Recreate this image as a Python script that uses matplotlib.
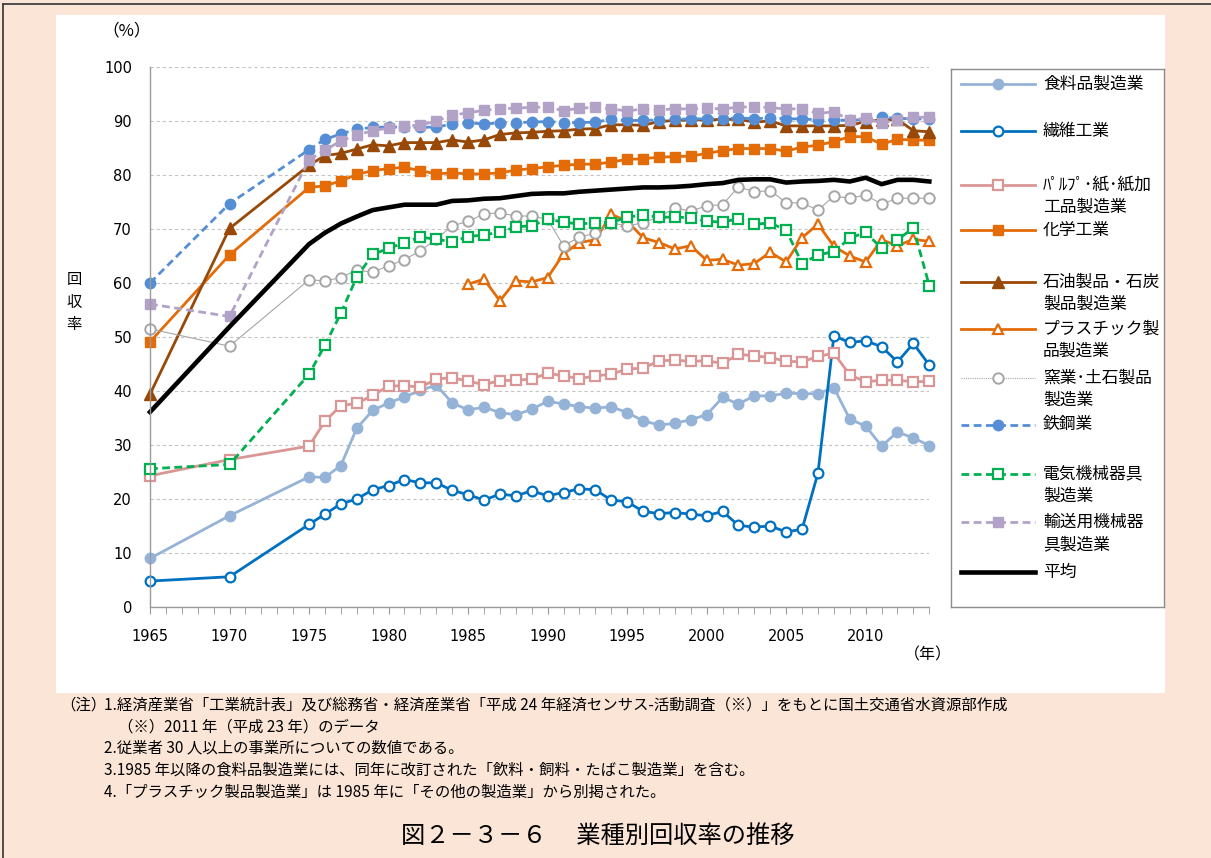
import matplotlib
matplotlib.use("Agg")
import matplotlib.pyplot as plt
from matplotlib.lines import Line2D
from matplotlib.patches import Rectangle
import numpy as np

plt.rcParams['font.family'] = ['Noto Sans CJK JP', 'DejaVu Sans']

# ---------------------------------------------------------------- data
years = [1965, 1970,
         1975, 1976, 1977, 1978, 1979, 1980, 1981, 1982, 1983, 1984,
         1985, 1986, 1987, 1988, 1989, 1990, 1991, 1992, 1993, 1994,
         1995, 1996, 1997, 1998, 1999, 2000, 2001, 2002, 2003, 2004,
         2005, 2006, 2007, 2008, 2009, 2010, 2011, 2012, 2013, 2014]

food = [9.0, 16.9,
        24.1, 24.0, 26.2, 33.1, 36.4, 37.8, 38.9, 40.1, 41.1, 37.8,
        36.5, 37.0, 36.0, 35.6, 36.6, 38.1, 37.6, 37.1, 36.8, 37.1,
        36.0, 34.5, 33.7, 34.0, 34.7, 35.6, 38.8, 37.6, 39.1, 39.1,
        39.6, 39.5, 39.5, 40.6, 34.8, 33.5, 29.8, 32.4, 31.3, 29.9]

textile = [4.8, 5.6,
           15.3, 17.2, 19.1, 20.0, 21.7, 22.5, 23.6, 23.0, 23.0, 21.6,
           20.8, 19.8, 20.9, 20.6, 21.5, 20.6, 21.2, 21.9, 21.7, 19.8,
           19.5, 17.7, 17.3, 17.5, 17.2, 16.9, 17.7, 15.1, 14.8, 15.0,
           13.9, 14.4, 24.8, 50.2, 49.0, 49.3, 48.2, 45.4, 48.8, 44.8]

pulp = [24.3, 27.3,
        29.8, 34.4, 37.3, 37.7, 39.2, 40.9, 41.0, 40.7, 42.2, 42.5,
        41.8, 41.2, 41.9, 42.0, 42.2, 43.3, 42.8, 42.3, 42.8, 43.1,
        44.1, 44.2, 45.6, 45.7, 45.5, 45.6, 45.1, 46.8, 46.5, 46.2,
        45.5, 45.4, 46.4, 47.0, 43.0, 41.7, 42.0, 42.0, 41.7, 41.8]

chemical = [49.1, 65.2,
            77.7, 78.0, 78.9, 80.1, 80.8, 81.2, 81.4, 80.8, 80.2, 80.4,
            80.2, 80.2, 80.4, 80.9, 81.2, 81.5, 81.8, 82.0, 82.0, 82.4,
            82.9, 83.0, 83.3, 83.4, 83.5, 84.0, 84.5, 84.9, 84.9, 84.9,
            84.4, 85.2, 85.5, 86.2, 87.1, 87.1, 85.7, 86.6, 86.5, 86.4]

petroleum = [39.4, 70.1,
             81.8, 83.6, 84.0, 84.8, 85.6, 85.4, 86.0, 86.0, 86.0, 86.5,
             86.1, 86.5, 87.5, 87.8, 87.9, 88.1, 88.2, 88.5, 88.6, 89.3,
             89.3, 89.2, 89.9, 90.1, 90.2, 90.2, 90.3, 90.3, 89.8, 90.0,
             89.1, 89.1, 89.1, 89.1, 89.2, 89.9, 90.2, 90.3, 88.2, 88.0]

plastic = [None, None,
           None, None, None, None, None, None, None, None, None, None,
           59.8, 60.7, 56.7, 60.4, 60.2, 61.0, 65.4, 67.5, 68.0, 72.7,
           71.5, 68.4, 67.5, 66.3, 66.9, 64.2, 64.4, 63.3, 63.6, 65.7,
           63.9, 68.4, 70.9, 66.8, 65.0, 63.9, 68.0, 66.9, 68.1, 67.7]

ceramics = [51.5, 48.3,
            60.6, 60.4, 61.0, 62.4, 62.0, 63.2, 64.3, 66.0, 68.1, 70.6,
            71.4, 72.8, 73.0, 72.4, 72.4, 71.8, 66.9, 68.5, 69.2, 71.2,
            70.5, 71.2, 72.2, 73.9, 73.3, 74.3, 74.5, 77.8, 76.9, 77.1,
            74.9, 74.8, 73.5, 76.1, 75.7, 76.3, 74.6, 75.7, 75.7, 75.7]

steel = [60.0, 74.7,
         84.7, 86.6, 87.6, 88.5, 88.8, 88.9, 88.9, 88.8, 88.9, 89.4,
         89.6, 89.5, 89.6, 89.7, 89.8, 89.9, 89.7, 89.7, 89.8, 90.3,
         90.1, 90.1, 90.2, 90.3, 90.4, 90.4, 90.4, 90.6, 90.4, 90.6,
         90.4, 90.4, 90.2, 90.2, 90.1, 90.3, 90.7, 90.5, 90.4, 90.4]

electric = [25.6, 26.4,
            43.1, 48.5, 54.4, 61.1, 65.3, 66.4, 67.5, 68.5, 68.1, 67.6,
            68.6, 68.9, 69.4, 70.4, 70.6, 71.8, 71.3, 70.9, 71.2, 71.2,
            72.2, 72.6, 72.2, 72.2, 72.1, 71.4, 71.3, 71.9, 70.9, 71.1,
            69.8, 63.6, 65.2, 65.8, 68.3, 69.4, 66.4, 68.0, 70.2, 59.5]

transport = [56.1, 53.8,
             82.8, 84.6, 86.3, 87.4, 88.2, 88.7, 89.1, 89.2, 90.0, 91.1,
             91.5, 92.0, 92.2, 92.4, 92.5, 92.6, 91.9, 92.4, 92.5, 92.2,
             91.9, 92.2, 92.0, 92.3, 92.2, 92.4, 92.2, 92.6, 92.6, 92.5,
             92.2, 92.3, 91.4, 91.7, 90.2, 90.5, 89.6, 90.2, 90.7, 90.7]

average = [36.1, 51.9,
           67.2, 69.3, 71.0, 72.3, 73.5, 74.0, 74.5, 74.5, 74.5, 75.2,
           75.3, 75.6, 75.7, 76.1, 76.5, 76.6, 76.6, 76.9, 77.1, 77.3,
           77.5, 77.7, 77.7, 77.8, 78.0, 78.3, 78.5, 79.1, 79.2, 79.2,
           78.6, 78.8, 78.9, 79.1, 78.8, 79.5, 78.3, 79.1, 79.1, 78.8]

legend_labels = [
    ['食料品製造業'],
    ['繊維工業'],
    ['ﾊﾟﾙﾌﾟ･紙･紙加', '工品製造業'],
    ['化学工業'],
    ['石油製品・石炭', '製品製造業'],
    ['プラスチック製', '品製造業'],
    ['窯業･土石製品', '製造業'],
    ['鉄鋼業'],
    ['電気機械器具', '製造業'],
    ['輸送用機械器', '具製造業'],
    ['平均'],
]

x_tick_labels = ['1965', '1970', '1975', '1980', '1985', '1990',
                 '1995', '2000', '2005', '2010']
y_ticks = [0, 10, 20, 30, 40, 50, 60, 70, 80, 90, 100]

notes = [
    '1.経済産業省「工業統計表」及び総務省・経済産業省「平成 24 年経済センサス-活動調査（※）」をもとに国土交通省水資源部作成',
    '（※）2011 年（平成 23 年）のデータ',
    '2.従業者 30 人以上の事業所についての数値である。',
    '3.1985 年以降の食料品製造業には、同年に改訂された「飲料・飼料・たばこ製造業」を含む。',
    '4.「プラスチック製品製造業」は 1985 年に「その他の製造業」から別掲された。',
]
title_text = '図２－３－６　 業種別回収率の推移'

# ---------------------------------------------------------------- styles
DASH = (0, (2.8, 1.6))
series = [
    (food, dict(color='#95B3D7', lw=2.0, ls='-', marker='o', ms=7.5,
                mfc='#95B3D7', mec='#95B3D7', mew=1.0)),
    (textile, dict(color='#0070C0', lw=2.0, ls='-', marker='o', ms=7,
                   mfc='white', mec='#0070C0', mew=1.6)),
    (pulp, dict(color='#D99694', lw=2.0, ls='-', marker='s', ms=7,
                mfc='white', mec='#D99694', mew=1.6)),
    (chemical, dict(color='#E36C09', lw=2.0, ls='-', marker='s', ms=7.5,
                    mfc='#E36C09', mec='#E36C09', mew=1.0)),
    (petroleum, dict(color='#984807', lw=2.0, ls='-', marker='^', ms=8,
                     mfc='#984807', mec='#984807', mew=1.0)),
    (plastic, dict(color='#E36C09', lw=2.0, ls='-', marker='^', ms=7.5,
                   mfc='white', mec='#E36C09', mew=1.6)),
    (ceramics, dict(color='#A6A6A6', lw=0.8, ls='-', marker='o', ms=7.5,
                    mfc='white', mec='#A6A6A6', mew=1.4)),
    (steel, dict(color='#558ED5', lw=2.0, ls=DASH, marker='o', ms=7.5,
                 mfc='#558ED5', mec='#558ED5', mew=1.0)),
    (electric, dict(color='#00B050', lw=2.0, ls=DASH, marker='s', ms=7,
                    mfc='white', mec='#00B050', mew=1.6)),
    (transport, dict(color='#B3A2C7', lw=2.0, ls=DASH, marker='s', ms=7.5,
                     mfc='#B3A2C7', mec='#B3A2C7', mew=1.0)),
    (average, dict(color='black', lw=3.3, ls='-', marker=None)),
]

# ---------------------------------------------------------------- figure
W, H = 1211, 858
fig = plt.figure(figsize=(W / 100, H / 100), dpi=100, facecolor='#FBE5D6')


def fx(px):
    return px / W


def fy(py):
    return 1 - py / H


# white chart panel and the outer frame
fig.add_artist(Rectangle((fx(56), fy(693)), fx(1165) - fx(56), fy(15) - fy(693),
                         transform=fig.transFigure, facecolor='white',
                         edgecolor='none', zorder=0))
fig.add_artist(Line2D([fx(3), fx(3)], [0, fy(4)], color='#404040', lw=1.3,
                      transform=fig.transFigure))
fig.add_artist(Line2D([fx(3), 1], [fy(4), fy(4)], color='#404040', lw=1.3,
                      transform=fig.transFigure))

# ---------------------------------------------------------------- main axes
ax = fig.add_axes([fx(150), fy(607), fx(929.3) - fx(150), fy(67) - fy(607)])
ax.set_xlim(1965, 2014)
ax.set_ylim(0, 100)
ax.patch.set_visible(False)

for values, st in series:
    y = np.array([np.nan if v is None else v for v in values], dtype=float)
    ax.plot(years, y, clip_on=False, **st)

ax.set_yticks(y_ticks)
ax.set_yticklabels([str(v) for v in y_ticks], family='DejaVu Sans', fontsize=10.5)
ax.tick_params(axis='y', length=0, pad=13)

ax.set_xticks([int(t) for t in x_tick_labels])
ax.set_xticklabels(x_tick_labels, family='DejaVu Sans', fontsize=10.5)
ax.set_xticks(list(range(1965, 2015)), minor=True)
ax.tick_params(axis='x', which='both', length=5, direction='out',
               color='#9A9A9A', pad=11)

ax.yaxis.grid(True, color='#C4C4C4', lw=0.8, ls=(0, (3, 2.5)))
ax.set_axisbelow(True)
for s in ('top', 'right'):
    ax.spines[s].set_visible(False)
for s in ('left', 'bottom'):
    ax.spines[s].set_color('#9A9A9A')
    ax.spines[s].set_linewidth(1.0)

fig.text(fx(127), fy(31), '（%）', ha='center', va='center', fontsize=12)
fig.text(fx(74), fy(302), '回\n収\n率', ha='center', va='center', fontsize=11,
         linespacing=1.45)
fig.text(fx(928), fy(655), '（年）', ha='center', va='center', fontsize=11.5)

# ---------------------------------------------------------------- legend
lx0, lx1, ly0, ly1 = 951, 1164, 69, 607
lax = fig.add_axes([fx(lx0), fy(ly1), fx(lx1) - fx(lx0), fy(ly0) - fy(ly1)])
lax.set_xlim(lx0, lx1)
lax.set_ylim(ly1, ly0)
lax.set_xticks([])
lax.set_yticks([])
lax.set_facecolor('white')
for s in lax.spines.values():
    s.set_color('#8C8C8C')
    s.set_linewidth(1.0)

entry_y = [84, 131, 185, 230, 282, 329, 378, 425, 474, 522, 572]
for (values, st), lines, yy in zip(series, legend_labels, entry_y):
    kw = dict(st)
    line_ls = (0, (1, 1)) if kw['lw'] < 1 else kw['ls']
    lax.plot([961, 1035], [yy, yy], color=kw['color'], lw=kw['lw'], ls=line_ls)
    if kw.get('marker'):
        lax.plot([998], [yy], ls='none', marker=kw['marker'], ms=kw['ms'],
                 mfc=kw['mfc'], mec=kw['mec'], mew=kw['mew'])
    for i, t in enumerate(lines):
        lax.text(1043, yy + 22.5 * i, t, ha='left', va='center', fontsize=12.1)

# ---------------------------------------------------------------- notes
fig.text(fx(60), fy(705), '（注）', ha='left', va='center', fontsize=11.1)
note_pos = [(104, 705), (118, 727), (104, 748), (104, 770), (104, 792)]
for (px, py), t in zip(note_pos, notes):
    fig.text(fx(px), fy(py), t, ha='left', va='center', fontsize=11.1)

fig.text(fx(598), fy(836), title_text, ha='center', va='center', fontsize=17.5)

fig.savefig('out.png', dpi=100, facecolor=fig.get_facecolor())
